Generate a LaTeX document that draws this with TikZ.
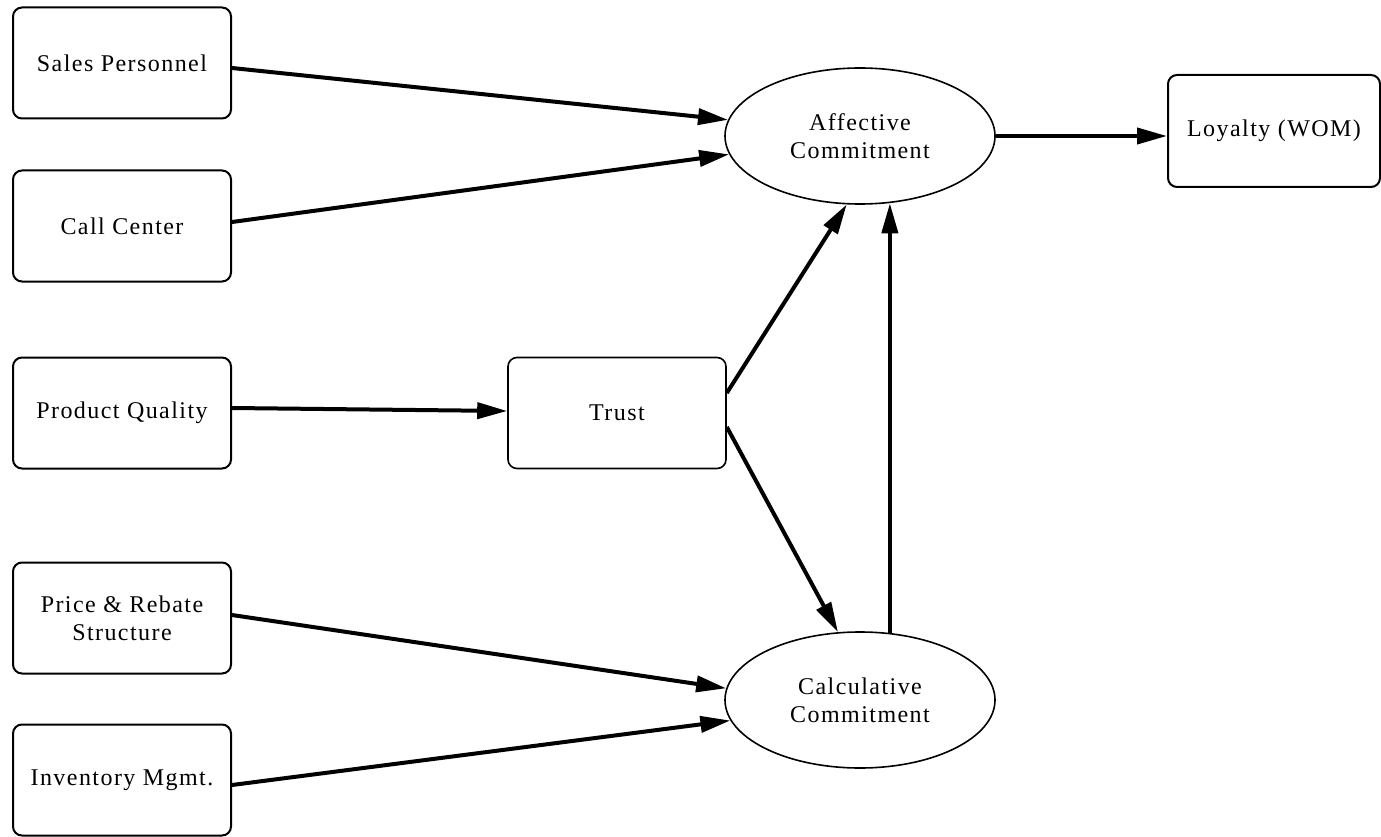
\documentclass[tikz,border=0pt]{standalone}
\usepackage{fontspec}
\setmainfont{Liberation Serif}[LetterSpace=6]
\usetikzlibrary{arrows.meta,shapes.geometric,calc}
\tikzset{
  box/.style={draw, line width=2pt, rounded corners=9pt, minimum width=218pt, minimum height=111pt, inner sep=0pt, align=center, font=\fontsize{24}{28}\selectfont},
  oval/.style={draw, ellipse, line width=1.6pt, minimum width=270pt, minimum height=136pt, inner sep=0pt, align=center, font=\fontsize{24}{28}\selectfont},
  link/.style={line width=4pt, -{Triangle[length=30pt,width=16pt]}}
}
\begin{document}
\begin{tikzpicture}[x=1pt,y=-1pt]
\useasboundingbox (0,0) rectangle (1381,837);
\node[box] (sp) at (122,63) {Sales Personnel};
\node[box] (cc) at (122,226) {Call Center};
\node[box] (pq) at (122,413) {Product Quality};
\node[box] (pr) at (122,618) {Price \& Rebate\\Structure};
\node[box] (im) at (122,780) {Inventory Mgmt.};
\node[box, line width=1.6pt] (tr) at (617,413) {Trust};
\node[oval] (ac) at (860,136) {Affective\\Commitment};
\node[oval] (cl) at (860,700) {Calculative\\Commitment};
\node[box, minimum width=212pt, minimum height=112pt] (ly) at (1274,131) {Loyalty (WOM)};

\draw[link] ($(sp.east)+(0,5)$) -- (ac.173.6);
\draw[link] ($(cc.east)+(0,-4)$) -- (ac.188.3);
\draw[link] ($(pq.east)+(0,-5)$) -- ($(tr.west)+(0,-2)$);
\draw[link] ($(tr.east)+(0,-20)$) -- (ac.259);
\draw[link] ($(tr.east)+(0,14)$) -- (cl.108.9);
\draw[link] (cl.66.4) -- (cl.66.4 |- ac.293.6);
\draw[link] ($(pr.east)+(0,-3)$) -- (cl.175);
\draw[link] ($(im.east)+(0,5)$) -- (cl.189);
\draw[link] (ac.east) -- (ac.east -| ly.west);
\end{tikzpicture}
\end{document}
